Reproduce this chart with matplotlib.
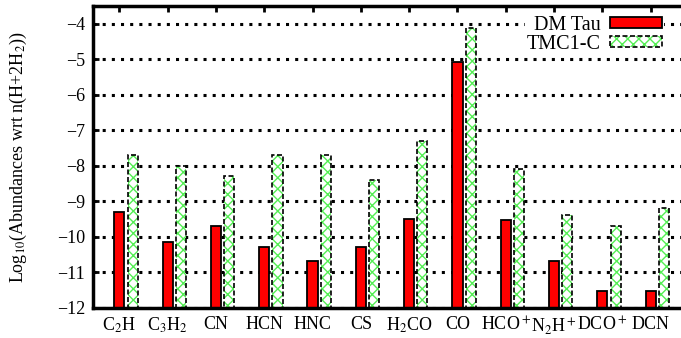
import matplotlib.pyplot as plt
import numpy as np
from matplotlib.patches import Patch

plt.rcParams['font.family'] = ['Liberation Serif', 'DejaVu Serif']
plt.rcParams['mathtext.fontset'] = 'stix'

species = ['C$_2$H', 'C$_3$H$_2$', 'CN', 'HCN', 'HNC', 'CS', 'H$_2$CO', 'CO',
           'HCO$^+$', 'N$_2$H$^+$', 'DCO$^+$', 'DCN']
dm_tau = [-9.3, -10.14, -9.7, -10.28, -10.7, -10.28, -9.5, -5.08,
          -9.52, -10.68, -11.53, -11.53]
tmc1c = [-7.7, -8.0, -8.3, -7.7, -7.7, -8.4, -7.3, -4.12,
         -8.1, -9.4, -9.7, -9.2]

fig = plt.figure(figsize=(6.81, 3.38), dpi=100)
ax = fig.add_axes([0.137, 0.09, 0.873, 0.892])

x = np.arange(len(species))
w = 0.21
base = -12
ax.grid(axis='y', color='black', linestyle=(0, (1, 2)), linewidth=2.2, zorder=0)

ax.bar(x, np.array(dm_tau) - base, w, bottom=base, color='#ff0000',
       edgecolor='black', linewidth=1.3, zorder=2)
ax.bar(x + 0.275, np.array(tmc1c) - base, w, bottom=base, color='white',
       edgecolor='#55ee55', hatch='xxx', linewidth=0, zorder=2)
ax.bar(x + 0.275, np.array(tmc1c) - base, w, bottom=base, fill=False,
       edgecolor='black', linestyle=(0, (3, 1.5)), linewidth=1.2, zorder=3)

h_red = Patch(facecolor='#ff0000', edgecolor='black', linewidth=1.3)
h_fill = Patch(facecolor='white', edgecolor='#55ee55', hatch='xxx', linewidth=0)
h_edge = Patch(fill=False, edgecolor='black', linestyle=(0, (3, 1.5)), linewidth=1.2)
leg = ax.legend([h_red, (h_fill, h_edge)], ['DM Tau', 'TMC1-C'],
                loc='upper right', bbox_to_anchor=(0.96, 0.975), frameon=True,
                markerfirst=False, fontsize=14.5, handlelength=2.6,
                handleheight=0.5, labelspacing=0.0, handletextpad=0.45,
                borderaxespad=0, borderpad=0.1, fancybox=False)
leg.get_frame().set_facecolor('white')
leg.get_frame().set_edgecolor('none')
leg.get_frame().set_alpha(1)
for t in leg.get_texts():
    t.set_ha('right')

ax.set_xlim(-0.54, 11.77)
ax.set_ylim(-12, -3.5)
ax.set_yticks(np.arange(-12, -3, 1))
ax.set_xticks(x)
ax.set_xticklabels(species)
ax.tick_params(axis='both', direction='in', top=True, labelsize=13,
               width=2, length=4, pad=6)
ax.tick_params(axis='x', pad=6)
for s in ['left', 'bottom', 'top']:
    ax.spines[s].set_linewidth(2.5)
ax.spines['right'].set_visible(False)

ax.set_ylabel('Log$_{10}$(Abundances wrt n(H+2H$_2$))', fontsize=13, labelpad=20)

fig.savefig('out.png', dpi=100)
